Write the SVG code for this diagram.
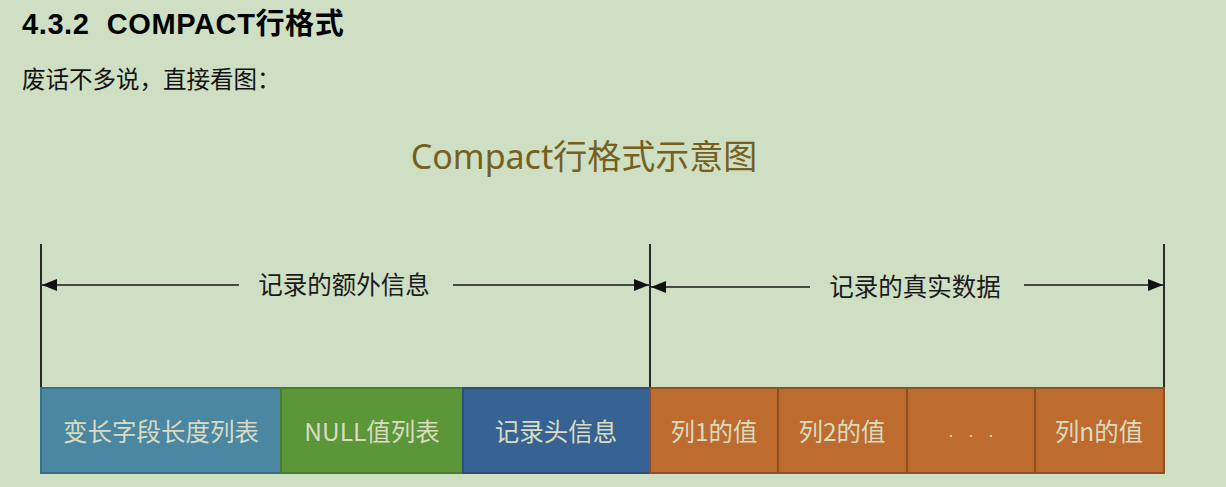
<svg xmlns="http://www.w3.org/2000/svg" width="1226" height="487" viewBox="0 0 1226 487">
<style>
.cjk{font-family:"Noto Sans CJK SC","Noto Sans",sans-serif}
.lbl{font-family:"Noto Sans CJK SC","Noto Sans",sans-serif;font-size:24.5px;fill:#d9dcc0;text-anchor:middle}
.dim{font-family:"Noto Sans CJK SC","Noto Sans",sans-serif;font-size:24.5px;fill:#1a1a1a;text-anchor:middle}
.line{stroke:#1a1a1a;stroke-width:1.6;fill:none}
.vline{stroke:#2a2a2a;stroke-width:2;fill:none}
.org{fill:#bd6b2e;stroke:#8e5125;stroke-width:2}
</style>
<defs>
<marker id="ah" viewBox="0 0 15 12" refX="15" refY="6" markerWidth="15" markerHeight="12" markerUnits="userSpaceOnUse" orient="auto">
<path d="M0,0 L15,6 L0,12 Z" fill="#111"/>
</marker>
</defs>
<rect width="1226" height="487" fill="#cfdfc3"/>
<text x="22" y="34" font-family="Liberation Sans,Noto Sans CJK SC,sans-serif" font-weight="bold" font-size="29" letter-spacing="0.6" fill="#000" xml:space="preserve">4.3.2  COMPACT行格式</text>
<text x="22" y="88" class="cjk" font-size="23.5" fill="#111">废话不多说，直接看图：</text>
<text x="584" y="169" font-family="Noto Sans,Noto Sans CJK SC,sans-serif" font-size="34" fill="#75601f" text-anchor="middle">Compact行格式示意图</text>
<g id="connectors">
<line class="vline" x1="41" y1="244" x2="41" y2="389"/>
<line class="vline" x1="650" y1="244" x2="650" y2="389"/>
<line class="vline" x1="1164" y1="244" x2="1164" y2="389"/>
<line class="line" x1="239" y1="285" x2="42" y2="285" marker-end="url(#ah)"/>
<line class="line" x1="453" y1="285" x2="649" y2="285" marker-end="url(#ah)"/>
<line class="line" x1="810" y1="287" x2="651" y2="287" marker-end="url(#ah)"/>
<line class="line" x1="1024" y1="285" x2="1163" y2="285" marker-end="url(#ah)"/>
<text class="dim" x="344" y="294">记录的额外信息</text>
<text class="dim" x="915" y="296">记录的真实数据</text>
</g>
<g id="varlen"><rect x="41" y="388" width="240" height="85" fill="#4a87a2" stroke="#3b6f87" stroke-width="2"/><text class="lbl" x="161" y="441">变长字段长度列表</text></g>
<g id="nulllist"><rect x="281" y="388" width="182" height="85" fill="#5b9638" stroke="#4a7d2d" stroke-width="2"/><text class="lbl" x="372" y="441">NULL值列表</text></g>
<g id="header"><rect x="463" y="388" width="187" height="85" fill="#366393" stroke="#2b4f77" stroke-width="2"/><text class="lbl" x="556" y="441">记录头信息</text></g>
<g id="col1"><rect class="org" x="650" y="388" width="128" height="85"/><text class="lbl" x="714" y="441">列1的值</text></g>
<g id="col2"><rect class="org" x="778" y="388" width="129" height="85"/><text class="lbl" x="842" y="441">列2的值</text></g>
<g id="dots"><rect class="org" x="907" y="388" width="128" height="85"/><text x="971" y="437" font-family="Liberation Sans,sans-serif" font-size="18" fill="#d9dcc0" text-anchor="middle" xml:space="preserve">.   .   .</text></g>
<g id="coln"><rect class="org" x="1035" y="388" width="129" height="85"/><text class="lbl" x="1099" y="441">列n的值</text></g>
</svg>
